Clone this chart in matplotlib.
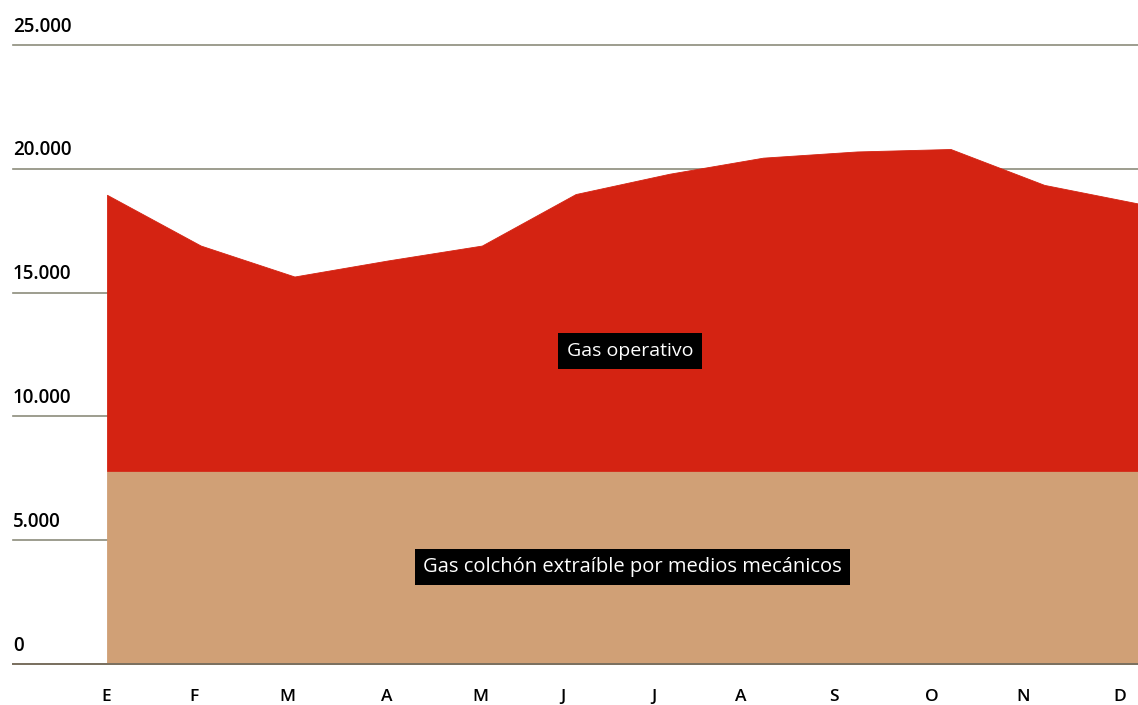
import numpy as np
from matplotlib import pyplot as plt

# monthly values
months = ["E", "F", "M", "A", "M", "J", "J", "A", "S", "O", "N", "D"]
total_gas = [18950, 16900, 15650, 16300, 16900, 18980, 19800, 20450, 20700, 20800, 19350, 18600]
cushion_gas = [7800] * 12
month_label_pos = [-0.01, 0.93, 1.92, 2.98, 3.98, 4.86, 5.83, 6.76, 7.76, 8.80, 9.77, 10.80]
y_ticks = [0, 5000, 10000, 15000, 20000, 25000]
y_tick_labels = ["0", "5.000", "10.000", "15.000", "20.000", "25.000"]

plt.rcParams['font.family'] = ['Open Sans', 'DejaVu Sans']

fig = plt.figure(figsize=(11.38, 7.05), dpi=100)
ax = fig.add_axes([13 / 1138, 41 / 705, 1 - 13 / 1138, 619 / 705])

x = np.arange(len(months))
ax.fill_between(x, 0, cushion_gas, facecolor="#D0A076", edgecolor="#D0A076",
                linewidth=0.6, zorder=2)
ax.fill_between(x, cushion_gas, total_gas, facecolor="#D42312", edgecolor="#D42312",
                linewidth=0.6, zorder=2)

for v, lab in zip(y_ticks, y_tick_labels):
    ax.axhline(v, color="#8C8C7C", linewidth=1.2, zorder=1, clip_on=False)
    ax.annotate(lab, xy=(0, v), xycoords=("axes fraction", "data"),
                xytext=(0, 6), textcoords="offset points",
                ha="left", va="bottom", fontsize=13.5, color="black",
                fontweight="semibold")
ax.axhline(0, color="#7A7060", linewidth=1.4, zorder=3, clip_on=False)

for p, m in zip(month_label_pos, months):
    ax.annotate(m, xy=(p, 0), xycoords="data", xytext=(0, -24),
                textcoords="offset points", ha="center", va="center",
                fontsize=12.5, color="black", fontweight="semibold")

ax.text(5.58, 12650, "Gas operativo", color="white", fontsize=14,
        ha="center", va="center", zorder=5,
        bbox=dict(facecolor="black", edgecolor="none", boxstyle="square,pad=0.45"))
ax.text(5.61, 3900, "Gas colchón extraíble por medios mecánicos", color="white",
        fontsize=14.5, ha="center", va="center", zorder=5,
        bbox=dict(facecolor="black", edgecolor="none", boxstyle="square,pad=0.4"))

ax.set_xlim(-(107 - 13) / 93.73, 11)
ax.set_ylim(0, 25000)
ax.axis("off")

plt.savefig("out.png", dpi=100)
